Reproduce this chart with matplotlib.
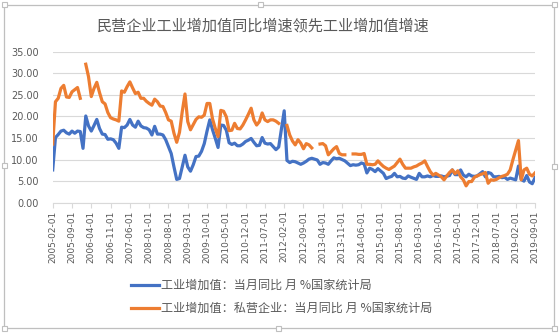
import numpy as np
import pandas as pd
import matplotlib
matplotlib.use("Agg")
import matplotlib.pyplot as plt
from matplotlib.patches import Rectangle
from matplotlib.lines import Line2D

plt.rcParams['font.family'] = ['Noto Sans CJK SC', 'DejaVu Sans']

title = "民营企业工业增加值同比增速领先工业增加值增速"
label_total = "工业增加值：当月同比 月 %国家统计局"
label_private = "工业增加值：私营企业：当月同比 月 %国家统计局"

# monthly categories 2005-02 .. 2019-09
months = pd.date_range("2005-02-01", "2019-09-01", freq="MS")

# 工业增加值：当月同比 (None = missing)
total_2005 = [7.6, 15.1, 15.8, 16.6, 16.8, 16.2, 15.9, 16.6, 16.1, 16.6, 16.5]
total_2006 = [12.6, 20.1, 17.8, 16.6, 17.9, 19.3, 17.2, 15.9, 15.8, 14.7, 14.8, 14.6]
total_2007 = [13.8, 12.6, 17.5, 17.4, 18.0, 19.3, 18.0, 17.5, 18.9, 17.8, 17.4, 17.3]
total_2008 = [16.9, 15.7, 17.7, 15.9, 15.9, 15.7, 14.6, 13.0, 11.4, 8.3, 5.4, 5.6]
total_2009 = [8.3, 11.0, 8.3, 7.3, 8.8, 10.7, 10.8, 11.9, 13.7, 16.6, 19.2, 16.9]
total_2010 = [14.9, 12.8, 18.0, 17.9, 16.8, 13.9, 13.5, 13.8, 13.2, 13.2, 13.6, 14.2]
total_2011 = [14.5, 14.9, 14.0, 13.2, 13.3, 15.1, 13.8, 13.6, 13.7, 13.0, 12.3, 12.9]
total_2012 = [None, 21.3, 9.8, 9.3, 9.6, 9.5, 9.2, 8.9, 9.2, 9.6, 10.1, 10.3]
total_2013 = [None, 9.9, 8.9, 9.3, 9.2, 8.9, 9.7, 10.4, 10.2, 10.3, 10.0, 9.7]
total_2014 = [None, 8.6, 8.8, 8.7, 8.8, 9.2, 9.0, 6.9, 8.0, 7.7, 7.2, 7.9]
total_2015 = [None, 6.8, 5.6, 5.9, 6.1, 6.8, 6.0, 6.1, 5.7, 5.6, 6.2, 5.9]
total_2016 = [None, 5.4, 6.8, 6.0, 6.0, 6.2, 6.0, 6.3, 6.1, 6.1, 6.2, 6.0]
total_2017 = [None, 6.3, 7.6, 6.5, 6.5, 7.6, 6.4, 6.0, 6.6, 6.2, 6.1, 6.2]
total_2018 = [None, 7.2, 6.0, 7.0, 6.8, 6.0, 6.0, 6.1, 5.8, 5.9, 5.4, 5.7]
total_2019 = [None, 5.3, 8.5, 5.4, 5.0, 6.3, 4.8, 4.4, 5.8]

# 工业增加值：私营企业：当月同比
private_2005 = [13.6, 23.4, 24.2, 26.5, 27.2, 24.5, 24.4, 25.7, 26.2, 26.7, 24.2]
private_2006 = [None, 32.1, 29.2, 24.6, 26.5, 27.9, 25.5, 23.4, 22.9, 20.9, 19.7, 19.4]
private_2007 = [19.2, 18.9, 25.9, 25.6, 26.9, 28.0, 26.6, 25.3, 25.6, 24.2, 24.2, 23.5]
private_2008 = [23.0, 22.6, 24.0, 23.4, 22.4, 22.3, 20.9, 19.2, 18.9, 16.1, 14.0, 16.3]
private_2009 = [21.1, 25.2, 18.8, 16.9, 18.1, 19.3, 19.9, 19.8, 20.3, 23.0, 23.0, 19.4]
private_2010 = [17.2, 15.3, 21.4, 21.2, 19.9, 16.7, 16.8, 18.4, 17.2, 17.1, 18.0, 19.2]
private_2011 = [20.5, 21.9, 19.2, 18.0, 18.8, 20.8, 19.2, 18.8, 19.2, 19.2, 18.9, 18.4]
private_2012 = [None, None, 17.9, 15.7, 14.3, 13.4, 14.6, 13.8, 12.5, 13.7, 13.4, 12.7]
private_2013 = [None, None, 13.6, 13.7, 13.2, 11.1, 11.8, 12.5, 13.0, 11.4, 11.1, 11.1]
private_2014 = [None, None, 11.3, 11.3, 11.2, 11.2, 11.4, 8.9, 8.9, 8.8, 8.9, 9.7]
private_2015 = [9.0, 8.4, 8.0, 7.7, 8.1, 8.5, 9.3, 10.1, 8.9, 8.0, 8.0, 8.0]
private_2016 = [8.3, 8.5, 8.9, 9.2, 9.7, 8.4, 7.2, 6.4, 6.8, 6.4, 6.0, 5.3]
private_2017 = [6.2, 7.0, 7.6, 6.7, 7.4, 6.0, 5.3, 3.9, 4.9, 4.9, 5.9, 6.2]
private_2018 = [6.5, 6.7, 7.0, 4.5, 5.3, 5.2, 5.4, 5.8, 6.1, 6.3, 6.6, 7.6]
private_2019 = [10.0, 12.2, 14.4, 5.3, 7.6, 8.0, 6.6, 6.2, 6.9]

tick_labels = ["2005-02-01", "2005-09-01", "2006-04-01", "2006-11-01", "2007-06-01",
               "2008-01-01", "2008-08-01", "2009-03-01", "2009-10-01", "2010-05-01",
               "2010-12-01", "2011-07-01", "2012-02-01", "2012-09-01", "2013-04-01",
               "2013-11-01", "2014-06-01", "2015-01-01", "2015-08-01", "2016-03-01",
               "2016-10-01", "2017-05-01", "2017-12-01", "2018-07-01", "2019-02-01",
               "2019-09-01"]
y_ticks = [0, 5, 10, 15, 20, 25, 30, 35]

total = (total_2005 + total_2006 + total_2007 + total_2008 + total_2009 + total_2010 +
         total_2011 + total_2012 + total_2013 + total_2014 + total_2015 + total_2016 +
         total_2017 + total_2018 + total_2019)
private = (private_2005 + private_2006 + private_2007 + private_2008 + private_2009 +
           private_2010 + private_2011 + private_2012 + private_2013 + private_2014 +
           private_2015 + private_2016 + private_2017 + private_2018 + private_2019)

total = np.array([np.nan if v is None else v for v in total], dtype=float)
private = np.array([np.nan if v is None else v for v in private], dtype=float)
x = np.arange(len(months))

BLUE = "#4472C4"
ORANGE = "#ED7D31"
TXT = "#595959"
GRID = "#D9D9D9"

fig = plt.figure(figsize=(5.6, 3.33), dpi=100)
ax = fig.add_axes([52.7 / 560, 1 - 202.7 / 333, (535 - 52.7) / 560, (202.7 - 51.7) / 333])

m = ~np.isnan(total)
ax.plot(x[m], total[m], color=BLUE, lw=2.3, solid_joinstyle='round', zorder=3)
ax.plot(x, private, color=ORANGE, lw=2.3, solid_joinstyle='round', zorder=3)

ax.set_xlim(0, len(months) - 1)
ax.set_ylim(0, 35)
ax.set_yticks(y_ticks)
ax.set_yticklabels([f"{v:.2f}" for v in y_ticks])
ax.set_xticks(np.arange(0, len(months), 7))
ax.set_xticklabels(tick_labels, rotation=90)

ax.yaxis.grid(True, color=GRID, lw=0.8)
ax.set_axisbelow(True)
for s in ["top", "right", "left"]:
    ax.spines[s].set_visible(False)
ax.spines["bottom"].set_color(GRID)
ax.spines["bottom"].set_linewidth(0.8)
ax.tick_params(axis="y", length=0, pad=10, labelsize=7, labelcolor=TXT)
ax.tick_params(axis="x", length=3.5, width=0.8, color=GRID, pad=2, labelsize=6.5, labelcolor=TXT)
for lab in ax.get_xticklabels() + ax.get_yticklabels():
    lab.set_family(['DejaVu Sans'])

fig.text(263 / 560, 1 - 26 / 333, title, ha="center", va="center", fontsize=10.9, color=TXT)

handles = [Line2D([], [], color=BLUE, lw=2.3), Line2D([], [], color=ORANGE, lw=2.3)]
fig.legend(handles, [label_total, label_private], loc="upper left",
           bbox_to_anchor=(131 / 560, 1 - 279 / 333), frameon=False, fontsize=8.7,
           handlelength=2.3, handletextpad=0.15, labelspacing=0.85, borderpad=0,
           borderaxespad=0, labelcolor=TXT)

# chart frame with selection handles
fig.patches.append(Rectangle((4 / 560, 5 / 333), 550 / 560, 323 / 333, transform=fig.transFigure,
                             fill=False, edgecolor="#BFBFBF", lw=0.9))
for hx, hy in [(260, 4), (278, 328), (4, 165), (554, 166), (4, 4), (554, 4), (4, 328), (554, 328)]:
    fig.patches.append(Rectangle(((hx - 2.5) / 560, 1 - (hy + 2.5) / 333), 5 / 560, 5 / 333,
                                 transform=fig.transFigure, facecolor="white",
                                 edgecolor="#BFBFBF", lw=0.8, zorder=5))

fig.savefig("out.png", dpi=100)
